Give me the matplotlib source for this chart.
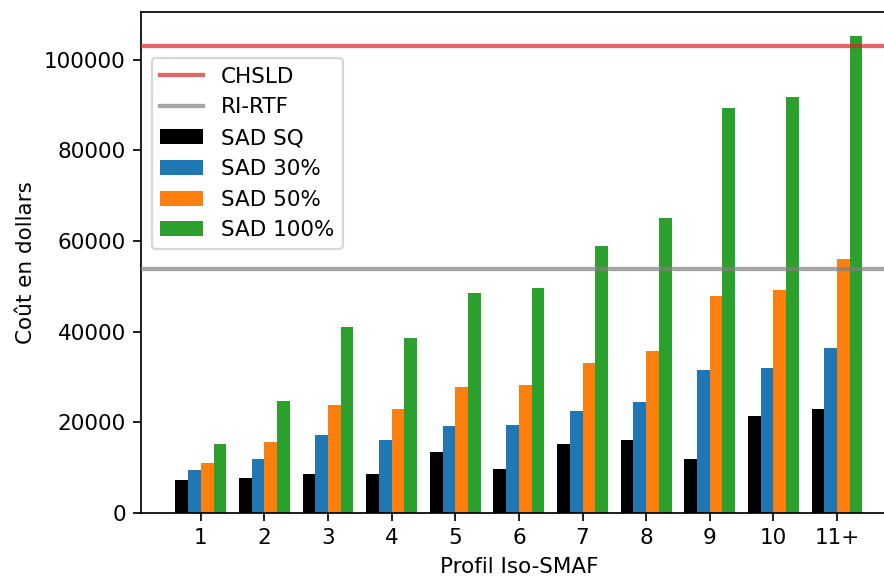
import numpy as np
from matplotlib import pyplot

profils = ['1', '2', '3', '4', '5', '6', '7', '8', '9', '10', '11+']
sad_sq = [7200, 7700, 8600, 8600, 13400, 9600, 15300, 16200, 12000, 21400, 22900]
sad_30 = [9500, 11900, 17200, 16200, 19100, 19500, 22400, 24400, 31500, 31900, 36300]
sad_50 = [11000, 15700, 23800, 22900, 27700, 28200, 33000, 35800, 47800, 49100, 56000]
sad_100 = [15200, 24800, 41000, 38600, 48600, 49700, 58900, 65000, 89400, 91800, 105200]
chsld = 103000
ri_rtf = 53800

fig = pyplot.figure(figsize=(884 / 155, 581 / 155), dpi=155)
ax = fig.add_axes([0.1595, 0.117, 0.855, 0.862])

xs = np.arange(1, len(profils) + 1)
w = 0.2
ax.axhline(chsld, color='tab:red', alpha=0.7, linewidth=2, label='CHSLD', zorder=3)
ax.axhline(ri_rtf, color='gray', alpha=0.7, linewidth=2, label='RI-RTF', zorder=3)
ax.bar(xs - 1.5 * w, sad_sq, w, color='black', label='SAD SQ')
ax.bar(xs - 0.5 * w, sad_30, w, color='tab:blue', label='SAD 30%')
ax.bar(xs + 0.5 * w, sad_50, w, color='tab:orange', label='SAD 50%')
ax.bar(xs + 1.5 * w, sad_100, w, color='tab:green', label='SAD 100%')

ax.set_xticks(xs)
ax.set_xticklabels(profils)
ax.set_xlabel('Profil Iso-SMAF')
ax.set_ylabel('Coût en dollars')
ax.legend(loc='upper left', bbox_to_anchor=(0, 0.93))

fig.savefig('out.png', dpi=155)
